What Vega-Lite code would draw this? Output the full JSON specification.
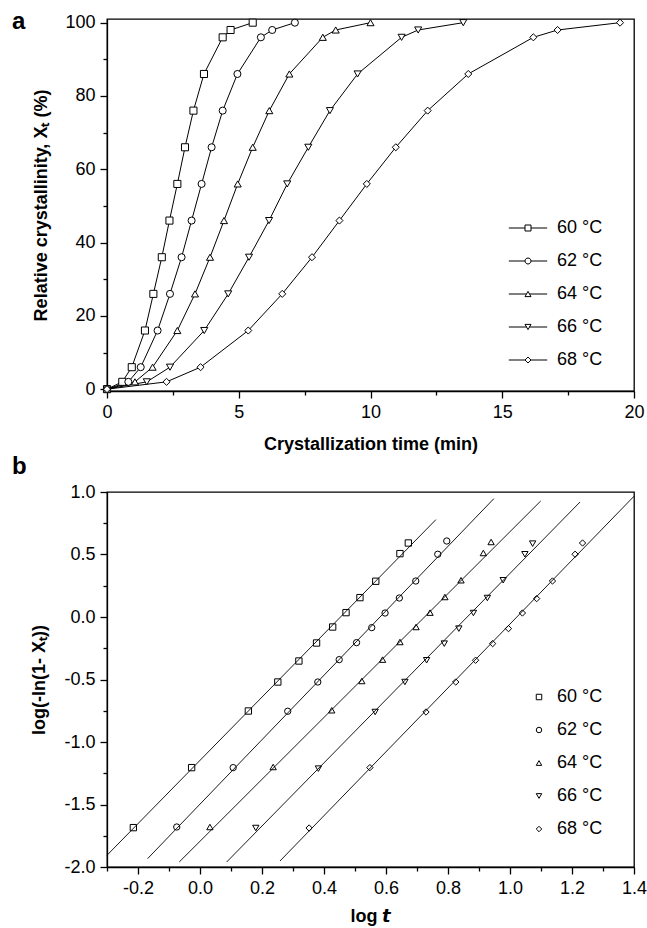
{
  "$schema": "https://vega.github.io/schema/vega-lite/v6.json",
  "padding": {"left": 11, "top": 9, "right": 0, "bottom": 0},
  "spacing": 0,
  "resolve": {"scale": {"shape": "independent"}, "legend": {"shape": "independent"}},
  "config": {
    "font": "Liberation Sans",
    "view": {"stroke": "black", "strokeWidth": 1.3},
    "axis": {
      "domainColor": "black", "domainWidth": 1.3, "tickColor": "black", "tickWidth": 1.3,
      "labelColor": "black", "titleColor": "black", "labelFont": "Liberation Sans", "labelFontSize": 18,
      "titleFont": "Liberation Sans", "titleFontSize": 18, "titleFontWeight": "bold",
      "grid": false, "labelFlush": false, "labelOverlap": false, "labelPadding": 5
    },
    "legend": {"labelFont": "Liberation Sans", "labelFontSize": 18, "labelColor": "black", "padding": 0, "rowPadding": 15, "symbolStrokeWidth": 1, "symbolStrokeColor": "black", "symbolOpacity": 1},
    "title": {"font": "Liberation Sans", "fontSize": 24, "fontWeight": "bold", "color": "black", "anchor": "start", "frame": "group", "offset": 0}
  },
  "datasets": {
    "curves": [
      {"s": "60 °C", "t": 0, "x": 0}, {"s": "60 °C", "t": 0.58, "x": 2}, {"s": "60 °C", "t": 0.94, "x": 6}, {"s": "60 °C", "t": 1.44, "x": 16}, {"s": "60 °C", "t": 1.76, "x": 26}, {"s": "60 °C", "t": 2.08, "x": 36}, {"s": "60 °C", "t": 2.37, "x": 46}, {"s": "60 °C", "t": 2.67, "x": 56}, {"s": "60 °C", "t": 2.96, "x": 66}, {"s": "60 °C", "t": 3.28, "x": 76}, {"s": "60 °C", "t": 3.68, "x": 86}, {"s": "60 °C", "t": 4.39, "x": 96}, {"s": "60 °C", "t": 4.69, "x": 98}, {"s": "60 °C", "t": 5.53, "x": 100},
      {"s": "62 °C", "t": 0, "x": 0}, {"s": "62 °C", "t": 0.81, "x": 2}, {"s": "62 °C", "t": 1.28, "x": 6}, {"s": "62 °C", "t": 1.92, "x": 16}, {"s": "62 °C", "t": 2.39, "x": 26}, {"s": "62 °C", "t": 2.83, "x": 36}, {"s": "62 °C", "t": 3.21, "x": 46}, {"s": "62 °C", "t": 3.59, "x": 56}, {"s": "62 °C", "t": 3.97, "x": 66}, {"s": "62 °C", "t": 4.39, "x": 76}, {"s": "62 °C", "t": 4.95, "x": 86}, {"s": "62 °C", "t": 5.84, "x": 96}, {"s": "62 °C", "t": 6.27, "x": 98}, {"s": "62 °C", "t": 7.13, "x": 100},
      {"s": "64 °C", "t": 0, "x": 0}, {"s": "64 °C", "t": 1.06, "x": 2}, {"s": "64 °C", "t": 1.73, "x": 6}, {"s": "64 °C", "t": 2.67, "x": 16}, {"s": "64 °C", "t": 3.34, "x": 26}, {"s": "64 °C", "t": 3.91, "x": 36}, {"s": "64 °C", "t": 4.44, "x": 46}, {"s": "64 °C", "t": 4.96, "x": 56}, {"s": "64 °C", "t": 5.53, "x": 66}, {"s": "64 °C", "t": 6.16, "x": 76}, {"s": "64 °C", "t": 6.92, "x": 86}, {"s": "64 °C", "t": 8.19, "x": 96}, {"s": "64 °C", "t": 8.68, "x": 98}, {"s": "64 °C", "t": 10.0, "x": 100},
      {"s": "66 °C", "t": 0, "x": 0}, {"s": "66 °C", "t": 1.51, "x": 2}, {"s": "66 °C", "t": 2.39, "x": 6}, {"s": "66 °C", "t": 3.69, "x": 16}, {"s": "66 °C", "t": 4.60, "x": 26}, {"s": "66 °C", "t": 5.39, "x": 36}, {"s": "66 °C", "t": 6.15, "x": 46}, {"s": "66 °C", "t": 6.84, "x": 56}, {"s": "66 °C", "t": 7.64, "x": 66}, {"s": "66 °C", "t": 8.46, "x": 76}, {"s": "66 °C", "t": 9.51, "x": 86}, {"s": "66 °C", "t": 11.18, "x": 96}, {"s": "66 °C", "t": 11.81, "x": 98}, {"s": "66 °C", "t": 13.52, "x": 100},
      {"s": "68 °C", "t": 0, "x": 0}, {"s": "68 °C", "t": 2.26, "x": 2}, {"s": "68 °C", "t": 3.55, "x": 6}, {"s": "68 °C", "t": 5.36, "x": 16}, {"s": "68 °C", "t": 6.65, "x": 26}, {"s": "68 °C", "t": 7.78, "x": 36}, {"s": "68 °C", "t": 8.82, "x": 46}, {"s": "68 °C", "t": 9.86, "x": 56}, {"s": "68 °C", "t": 10.96, "x": 66}, {"s": "68 °C", "t": 12.17, "x": 76}, {"s": "68 °C", "t": 13.71, "x": 86}, {"s": "68 °C", "t": 16.18, "x": 96}, {"s": "68 °C", "t": 17.1, "x": 98}, {"s": "68 °C", "t": 19.47, "x": 100}
    ],
    "avrami": [
      {"s": "60 °C", "lt": -0.215, "v": -1.685}, {"s": "60 °C", "lt": -0.027, "v": -1.205}, {"s": "60 °C", "lt": 0.156, "v": -0.752}, {"s": "60 °C", "lt": 0.251, "v": -0.52}, {"s": "60 °C", "lt": 0.319, "v": -0.352}, {"s": "60 °C", "lt": 0.376, "v": -0.208}, {"s": "60 °C", "lt": 0.428, "v": -0.08}, {"s": "60 °C", "lt": 0.471, "v": 0.035}, {"s": "60 °C", "lt": 0.516, "v": 0.155}, {"s": "60 °C", "lt": 0.567, "v": 0.286}, {"s": "60 °C", "lt": 0.645, "v": 0.507}, {"s": "60 °C", "lt": 0.672, "v": 0.592},
      {"s": "62 °C", "lt": -0.075, "v": -1.68}, {"s": "62 °C", "lt": 0.107, "v": -1.205}, {"s": "62 °C", "lt": 0.283, "v": -0.754}, {"s": "62 °C", "lt": 0.38, "v": -0.52}, {"s": "62 °C", "lt": 0.449, "v": -0.341}, {"s": "62 °C", "lt": 0.505, "v": -0.205}, {"s": "62 °C", "lt": 0.554, "v": -0.085}, {"s": "62 °C", "lt": 0.597, "v": 0.032}, {"s": "62 °C", "lt": 0.643, "v": 0.152}, {"s": "62 °C", "lt": 0.696, "v": 0.288}, {"s": "62 °C", "lt": 0.767, "v": 0.502}, {"s": "62 °C", "lt": 0.796, "v": 0.608},
      {"s": "64 °C", "lt": 0.032, "v": -1.68}, {"s": "64 °C", "lt": 0.236, "v": -1.2}, {"s": "64 °C", "lt": 0.425, "v": -0.746}, {"s": "64 °C", "lt": 0.522, "v": -0.512}, {"s": "64 °C", "lt": 0.589, "v": -0.341}, {"s": "64 °C", "lt": 0.645, "v": -0.2}, {"s": "64 °C", "lt": 0.697, "v": -0.08}, {"s": "64 °C", "lt": 0.742, "v": 0.035}, {"s": "64 °C", "lt": 0.79, "v": 0.16}, {"s": "64 °C", "lt": 0.842, "v": 0.294}, {"s": "64 °C", "lt": 0.914, "v": 0.512}, {"s": "64 °C", "lt": 0.939, "v": 0.6},
      {"s": "66 °C", "lt": 0.18, "v": -1.688}, {"s": "66 °C", "lt": 0.382, "v": -1.213}, {"s": "66 °C", "lt": 0.565, "v": -0.76}, {"s": "66 °C", "lt": 0.661, "v": -0.52}, {"s": "66 °C", "lt": 0.731, "v": -0.346}, {"s": "66 °C", "lt": 0.788, "v": -0.213}, {"s": "66 °C", "lt": 0.835, "v": -0.093}, {"s": "66 °C", "lt": 0.882, "v": 0.032}, {"s": "66 °C", "lt": 0.927, "v": 0.152}, {"s": "66 °C", "lt": 0.978, "v": 0.294}, {"s": "66 °C", "lt": 1.048, "v": 0.502}, {"s": "66 °C", "lt": 1.073, "v": 0.587},
      {"s": "68 °C", "lt": 0.352, "v": -1.688}, {"s": "68 °C", "lt": 0.548, "v": -1.205}, {"s": "68 °C", "lt": 0.729, "v": -0.76}, {"s": "68 °C", "lt": 0.825, "v": -0.52}, {"s": "68 °C", "lt": 0.889, "v": -0.346}, {"s": "68 °C", "lt": 0.944, "v": -0.213}, {"s": "68 °C", "lt": 0.995, "v": -0.093}, {"s": "68 °C", "lt": 1.04, "v": 0.032}, {"s": "68 °C", "lt": 1.086, "v": 0.147}, {"s": "68 °C", "lt": 1.137, "v": 0.288}, {"s": "68 °C", "lt": 1.21, "v": 0.502}, {"s": "68 °C", "lt": 1.234, "v": 0.592}
    ],
    "fits": [
      {"s": "60 °C", "lt": -0.3, "v": -1.906}, {"s": "60 °C", "lt": 0.761, "v": 0.779},
      {"s": "62 °C", "lt": -0.169, "v": -1.933}, {"s": "62 °C", "lt": 0.948, "v": 0.947},
      {"s": "64 °C", "lt": -0.067, "v": -1.96}, {"s": "64 °C", "lt": 1.099, "v": 0.928},
      {"s": "66 °C", "lt": 0.086, "v": -1.96}, {"s": "66 °C", "lt": 1.226, "v": 0.92},
      {"s": "68 °C", "lt": 0.258, "v": -1.952}, {"s": "68 °C", "lt": 1.4, "v": 0.966}
    ]
  },
  "vconcat": [
    {
      "title": {"text": "a", "dx": -95, "dy": 24},
      "width": 527,
      "height": 372,
      "data": {"name": "curves"},
      "resolve": {"scale": {"shape": "independent"}, "legend": {"shape": "independent"}},
      "encoding": {
        "x": {"field": "t", "type": "quantitative", "scale": {"domain": [0, 20], "nice": false, "zero": false},
          "axis": {"title": "Crystallization time (min)", "values": [0, 2.5, 5, 7.5, 10, 12.5, 15, 17.5, 20],
            "labelExpr": "datum.value % 5 === 0 ? datum.label : ''",
            "tickSize": {"condition": {"test": "datum.value % 5 !== 0", "value": 4}, "value": 7},
            "titlePadding": 14}},
        "y": {"field": "x", "type": "quantitative", "scale": {"domain": [-0.5, 101], "nice": false, "zero": false},
          "axis": {"title": "Relative crystallinity, Xₜ (%)", "values": [0, 10, 20, 30, 40, 50, 60, 70, 80, 90, 100],
            "labelExpr": "datum.value % 20 === 0 ? datum.label : ''",
            "tickSize": {"condition": {"test": "datum.value % 20 !== 0", "value": 4}, "value": 7},
            "titlePadding": 14}}
      },
      "layer": [
        {"mark": {"type": "line", "color": "black", "strokeWidth": 1}, "encoding": {"detail": {"field": "s"}}},
        {"mark": {"type": "point", "filled": false, "fill": "white", "fillOpacity": 1, "stroke": "black", "strokeWidth": 1, "size": 50, "opacity": 1},
          "encoding": {"shape": {"field": "s", "type": "nominal",
            "scale": {"domain": ["60 °C", "62 °C", "64 °C", "66 °C", "68 °C"], "range": ["square", "circle", "triangle-up", "triangle-down", "diamond"]},
            "legend": null}}},
        {"transform": [{"filter": "datum.t < -100"}],
          "mark": {"type": "point", "filled": false, "stroke": "black", "strokeWidth": 1, "size": 36, "opacity": 1},
          "encoding": {"shape": {"field": "s", "type": "nominal",
            "scale": {"domain": ["60 °C", "62 °C", "64 °C", "66 °C", "68 °C"], "range": ["M-6.4,0H-1M1,0H6.4M-1,-1H1V1H-1Z", "M-6.4,0H-1M1,0H6.4M-1,0A1,1 0 1,0 1,0A1,1 0 1,0 -1,0Z", "M-6.4,0H-0.5M0.5,0H6.4M0,-0.87L1,0.87H-1Z", "M-6.4,0H-0.5M0.5,0H6.4M0,0.87L1,-0.87H-1Z", "M-6.4,0H-1M1,0H6.4M-1,0L0,-1L1,0L0,1Z"]},
            "legend": {"title": null, "orient": "none", "legendX": 412, "legendY": 200, "labelOffset": 20, "symbolSize": 36}}}}
      ]
    },
    {
      "title": {"text": "b", "dx": -95, "dy": 0},
      "width": 527,
      "height": 375,
      "encoding": {
        "x": {"field": "lt", "type": "quantitative", "scale": {"domain": [-0.3, 1.4], "nice": false, "zero": false},
          "axis": {"title": "log 𝙩", "values": [-0.3, -0.2, -0.1, 0, 0.1, 0.2, 0.3, 0.4, 0.5, 0.6, 0.7, 0.8, 0.9, 1.0, 1.1, 1.2, 1.3, 1.4],
            "labelExpr": "abs(round(datum.value*10)) % 2 === 1 ? '' : replace(format(datum.value, '.1f'), '−', '-')",
            "tickSize": {"condition": {"test": "abs(round(datum.value*10)) % 2 === 1", "value": 4}, "value": 7},
            "titlePadding": 10}},
        "y": {"field": "v", "type": "quantitative", "scale": {"domain": [-2, 1], "nice": false, "zero": false},
          "axis": {"title": "log(-ln(1- Xₜ))", "values": [-2, -1.75, -1.5, -1.25, -1, -0.75, -0.5, -0.25, 0, 0.25, 0.5, 0.75, 1],
            "labelExpr": "round(datum.value*4) % 2 !== 0 ? '' : replace(format(datum.value, '.1f'), '−', '-')",
            "tickSize": {"condition": {"test": "round(datum.value*4) % 2 !== 0", "value": 4}, "value": 7},
            "titlePadding": 15}}
      },
      "layer": [
        {"data": {"name": "avrami"},
          "mark": {"type": "point", "filled": false, "stroke": "black", "strokeWidth": 1, "size": 40, "opacity": 1},
          "encoding": {"shape": {"field": "s", "type": "nominal",
            "scale": {"domain": ["60 °C", "62 °C", "64 °C", "66 °C", "68 °C"], "range": ["square", "circle", "triangle-up", "triangle-down", "diamond"]},
            "legend": {"title": null, "orient": "none", "legendX": 423, "legendY": 196, "labelOffset": 9, "symbolSize": 30}}}},
        {"data": {"name": "fits"},
          "mark": {"type": "line", "color": "black", "strokeWidth": 0.9},
          "encoding": {"detail": {"field": "s"}}}
      ]
    }
  ]
}
